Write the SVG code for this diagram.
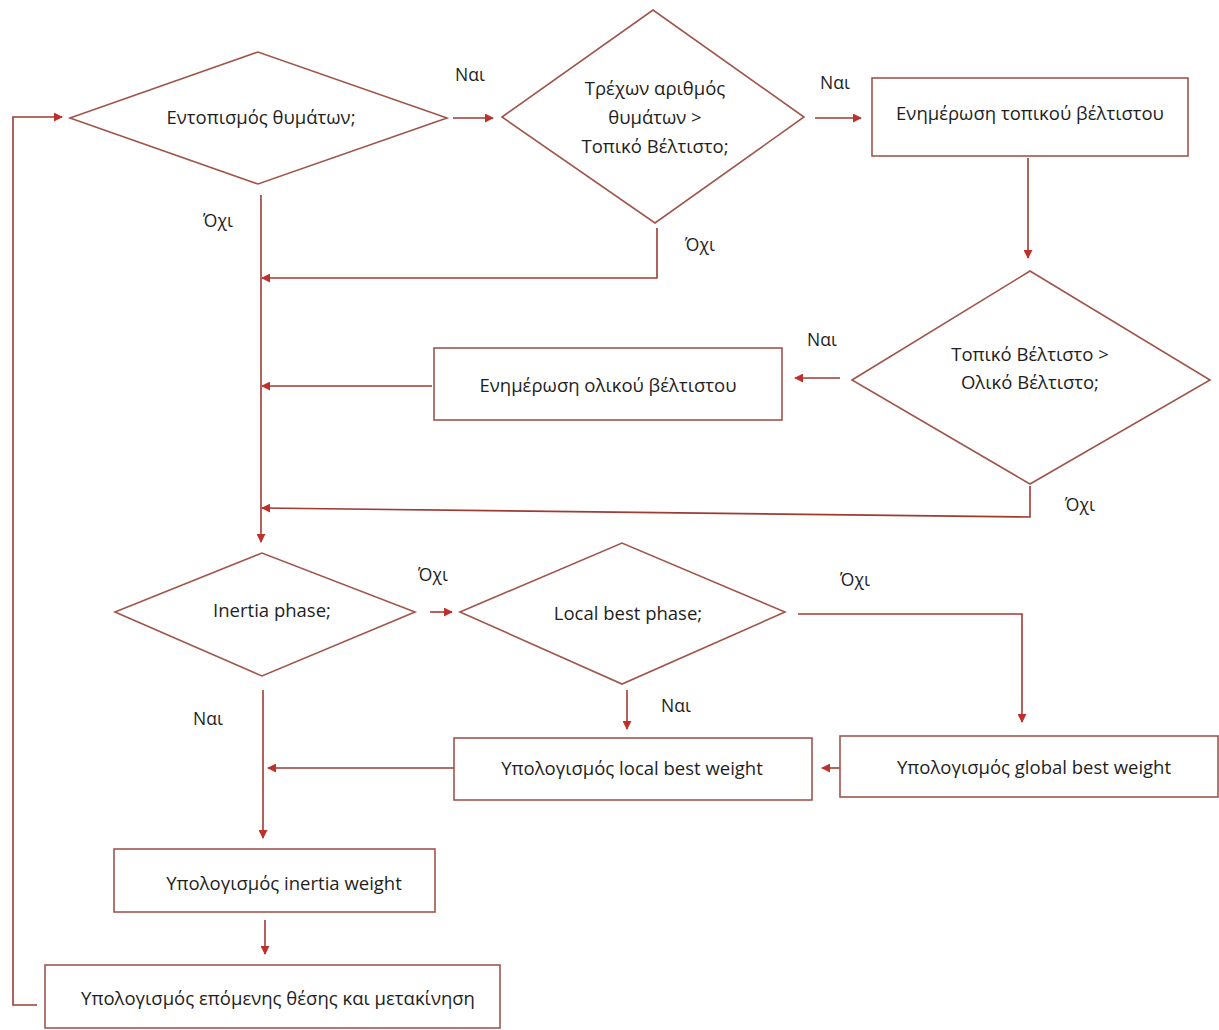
<svg xmlns="http://www.w3.org/2000/svg" width="1219" height="1030" viewBox="0 0 1219 1030">
<defs>
<style>
.shape{fill:#ffffff;stroke:#a0554b;stroke-width:1.6}
.conn{fill:none;stroke:#9e3b33;stroke-width:1.6}
.t{font-family:"Open Sans","Noto Sans","DejaVu Sans",sans-serif;font-size:18.5px;fill:#1e1e1e;text-anchor:middle}
.lbl{font-family:"Open Sans","Noto Sans","DejaVu Sans",sans-serif;font-size:17.5px;fill:#1e1e1e;text-anchor:middle}
</style>
<marker id="ah" viewBox="0 0 10 10" refX="9" refY="5" markerWidth="9" markerHeight="9" markerUnits="userSpaceOnUse" orient="auto">
<path d="M0,0 L10,5 L0,10 z" fill="#c0302a"/>
</marker>
</defs>
<rect width="1219" height="1030" fill="#ffffff"/>

<g id="connectors">
<polyline class="conn" points="37,1005 13,1005 13,117 62,117" marker-end="url(#ah)"/>
<line class="conn" x1="453" y1="118" x2="493" y2="118" marker-end="url(#ah)"/>
<line class="conn" x1="815" y1="118" x2="861" y2="118" marker-end="url(#ah)"/>
<line class="conn" x1="1028" y1="158" x2="1028" y2="258" marker-end="url(#ah)"/>
<line class="conn" x1="840" y1="378" x2="795" y2="378" marker-end="url(#ah)"/>
<line class="conn" x1="432" y1="386" x2="262" y2="386" marker-end="url(#ah)"/>
<polyline class="conn" points="657,228 657,278 262,278" marker-end="url(#ah)"/>
<line class="conn" x1="261" y1="195" x2="261" y2="542" marker-end="url(#ah)"/>
<polyline class="conn" points="1030,486 1030,517 262,508" marker-end="url(#ah)"/>
<line class="conn" x1="430" y1="612" x2="452" y2="612" marker-end="url(#ah)"/>
<polyline class="conn" points="798,614 1022,614 1022,722" marker-end="url(#ah)"/>
<line class="conn" x1="627" y1="690" x2="627" y2="729" marker-end="url(#ah)"/>
<line class="conn" x1="840" y1="768" x2="822" y2="768" marker-end="url(#ah)"/>
<line class="conn" x1="454" y1="768" x2="268" y2="768" marker-end="url(#ah)"/>
<line class="conn" x1="263" y1="690" x2="263" y2="838" marker-end="url(#ah)"/>
<line class="conn" x1="265" y1="920" x2="265" y2="954" marker-end="url(#ah)"/>
</g>

<g id="labels">
<text class="lbl" x="470" y="81">Ναι</text>
<text class="lbl" x="835" y="89">Ναι</text>
<text class="lbl" x="218" y="227">Όχι</text>
<text class="lbl" x="700" y="251">Όχι</text>
<text class="lbl" x="822" y="346">Ναι</text>
<text class="lbl" x="1080" y="511">Όχι</text>
<text class="lbl" x="433" y="581">Όχι</text>
<text class="lbl" x="855" y="586">Όχι</text>
<text class="lbl" x="676" y="712">Ναι</text>
<text class="lbl" x="208" y="725">Ναι</text>
</g>

<g id="d1">
<polygon class="shape" points="70,118 258,52 447,118 258,184"/>
<text class="t" x="261" y="124">Εντοπισμός θυμάτων;</text>
</g>
<g id="d2">
<polygon class="shape" points="502,117 653,10 804,117 655,223"/>
<text class="t" x="655" y="95">Τρέχων αριθμός</text>
<text class="t" x="655" y="124">θυμάτων &gt;</text>
<text class="t" x="655" y="153">Τοπικό Βέλτιστο;</text>
</g>
<g id="r1">
<rect class="shape" x="872" y="78" width="316" height="78"/>
<text class="t" x="1030" y="120">Ενημέρωση τοπικού βέλτιστου</text>
</g>
<g id="d3">
<polygon class="shape" points="852,380 1030,271 1210,380 1030,484"/>
<text class="t" x="1030" y="361">Τοπικό Βέλτιστο &gt;</text>
<text class="t" x="1030" y="389">Ολικό Βέλτιστο;</text>
</g>
<g id="r2">
<rect class="shape" x="434" y="348" width="348" height="72"/>
<text class="t" x="608" y="392">Ενημέρωση ολικού βέλτιστου</text>
</g>
<g id="d4">
<polygon class="shape" points="115,612 262,553 415,612 262,676"/>
<text class="t" x="272" y="617">Inertia phase;</text>
</g>
<g id="d5">
<polygon class="shape" points="460,612 622,543 785,612 622,684"/>
<text class="t" x="628" y="620">Local best phase;</text>
</g>
<g id="r3">
<rect class="shape" x="454" y="738" width="358" height="62"/>
<text class="t" x="632" y="775">Υπολογισμός local best weight</text>
</g>
<g id="r4">
<rect class="shape" x="840" y="736" width="378" height="61"/>
<text class="t" x="1034" y="774">Υπολογισμός global best weight</text>
</g>
<g id="r5">
<rect class="shape" x="114" y="849" width="321" height="63"/>
<text class="t" x="284" y="890">Υπολογισμός inertia weight</text>
</g>
<g id="r6">
<rect class="shape" x="45" y="965" width="455" height="63"/>
<text class="t" x="278" y="1005">Υπολογισμός επόμενης θέσης και μετακίνηση</text>
</g>
</svg>
